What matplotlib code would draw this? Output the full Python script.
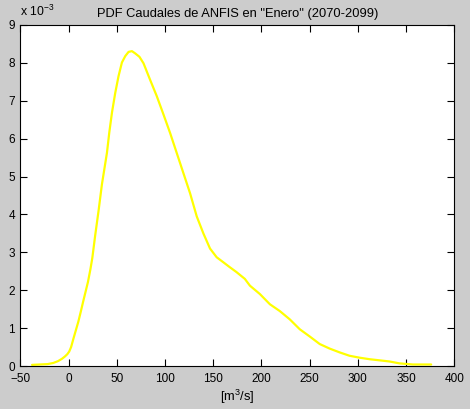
import matplotlib
matplotlib.use("Agg")
import matplotlib.pyplot as plt
from matplotlib.ticker import FuncFormatter

# Discharge values [m^3/s]
x_vals = [-38, -30, -22, -16, -11, -7, -4, -1.5, 0.5, 2.5, 5, 7.5, 10, 12.5, 15, 17.5,
          20, 22.5, 24.5, 27.5, 31, 34.5, 37.2, 39.7, 42.1, 44.9, 48.3, 51.7, 55.2,
          58.7, 62.1, 65.6, 69, 73.4, 77.6, 84.5, 91.4, 98.3, 105.2, 112.1, 119,
          125.9, 132.8, 139.7, 146.6, 153.5, 160.3, 167, 174, 182.7, 188, 198.3,
          208.7, 219, 229.4, 239.7, 250, 260.4, 270.7, 281, 291.4, 301.7, 312, 322.4,
          332.7, 343, 357, 376]
# PDF values in units of 1e-3
pdf_e3 = [0.03, 0.04, 0.05, 0.08, 0.13, 0.19, 0.25, 0.31, 0.38, 0.5, 0.73, 0.95, 1.17,
          1.43, 1.7, 1.96, 2.22, 2.55, 2.85, 3.45, 4.1, 4.8, 5.23, 5.63, 6.16, 6.69,
          7.21, 7.65, 8.01, 8.18, 8.29, 8.31, 8.25, 8.16, 7.99, 7.55, 7.12, 6.64, 6.15,
          5.62, 5.09, 4.56, 3.95, 3.5, 3.1, 2.87, 2.74, 2.61, 2.48, 2.3, 2.12, 1.9,
          1.63, 1.45, 1.23, 0.97, 0.78, 0.58, 0.46, 0.36, 0.27, 0.22, 0.18, 0.15,
          0.12, 0.07, 0.04, 0.04]
SCALE = 1e-3
pdf_vals = [v * SCALE for v in pdf_e3]

x_ticks = [-50, 0, 50, 100, 150, 200, 250, 300, 350, 400]
y_ticks_e3 = [0, 1, 2, 3, 4, 5, 6, 7, 8, 9]

title = 'PDF Caudales de ANFIS en "Enero" (2070-2099)'
xlabel = '[m$^{3}$/s]'

plt.rcParams['font.family'] = ['Liberation Sans', 'DejaVu Sans']
plt.rcParams['mathtext.fontset'] = 'custom'
plt.rcParams['mathtext.rm'] = 'Liberation Sans'

FS = 8.5

fig = plt.figure(figsize=(4.70, 4.09), dpi=100, facecolor='#cccccc')
ax = fig.add_axes([0.0436, 0.1051, 0.9230, 0.8338])
ax.set_facecolor('white')

ax.plot(x_vals, pdf_vals, color='#ffff00', lw=1.6, solid_joinstyle='round',
        solid_capstyle='round')

ax.set_xlim(-50, 400)
ax.set_ylim(0, 9 * SCALE)
ax.set_xticks(x_ticks)
ax.set_yticks([t * SCALE for t in y_ticks_e3])
ax.yaxis.set_major_formatter(FuncFormatter(lambda v, p: f"{v / SCALE:g}"))
ax.tick_params(axis='both', direction='in', length=5, width=0.8, top=True, right=True,
               labelsize=FS, colors='black')
ax.tick_params(axis='x', pad=5)
ax.tick_params(axis='y', pad=4)
for s in ax.spines.values():
    s.set_linewidth(0.8)
    s.set_color('black')

ax.set_title(title, fontsize=9.3, pad=6)
ax.set_xlabel(xlabel, fontsize=9.3, labelpad=2)
fig.text(0.043, 0.953, r'x 10$^{-3}$', fontsize=8.8, ha='left', va='bottom')

fig.savefig('out.png', dpi=100, facecolor=fig.get_facecolor())
